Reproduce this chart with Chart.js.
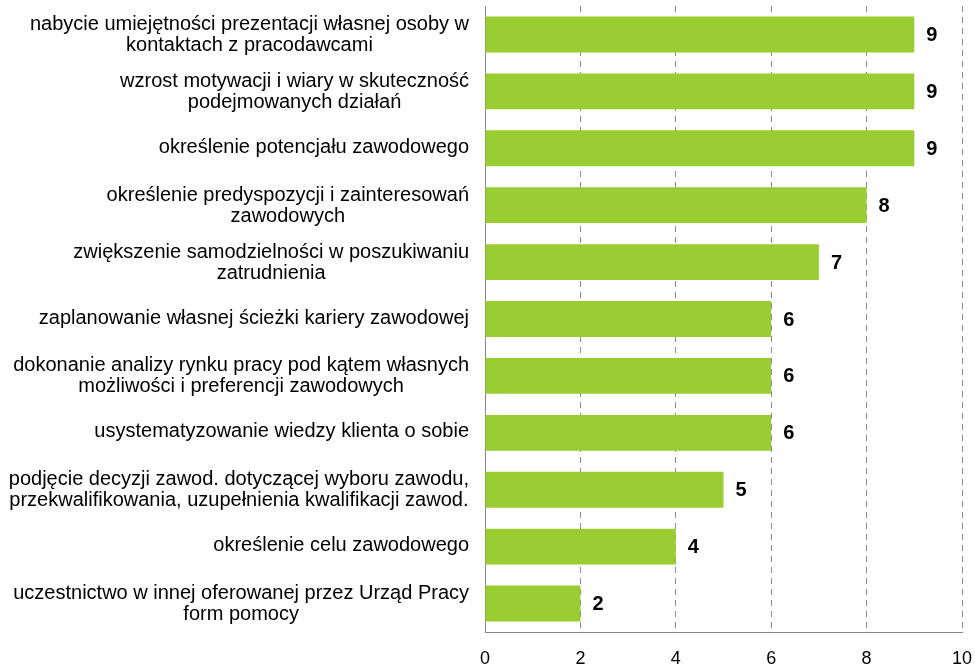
<!DOCTYPE html>
<html>
<head>
<meta charset="utf-8">
<script src="https://cdn.jsdelivr.net/npm/chart.js@4"></script>
<style>
  html, body { margin: 0; padding: 0; background: #fff; }
  #wrap { width: 975px; height: 666px; }
</style>
</head>
<body>
<div id="wrap"><canvas id="barChart"></canvas></div>
<script>
// Categories (already broken into lines as in the original)
const categories = [
    ['nabycie umiejętności prezentacji własnej osoby w', 'kontaktach z pracodawcami'],
    ['wzrost motywacji i wiary w skuteczność', 'podejmowanych działań'],
    ['określenie potencjału zawodowego'],
    ['określenie predyspozycji i zainteresowań', 'zawodowych'],
    ['zwiększenie samodzielności w poszukiwaniu', 'zatrudnienia'],
    ['zaplanowanie własnej ścieżki kariery zawodowej'],
    ['dokonanie analizy rynku pracy pod kątem własnych', 'możliwości i preferencji zawodowych'],
    ['usystematyzowanie wiedzy klienta o sobie'],
    ['podjęcie decyzji zawod. dotyczącej wyboru zawodu,', 'przekwalifikowania, uzupełnienia kwalifikacji zawod.'],
    ['określenie celu zawodowego'],
    ['uczestnictwo w innej oferowanej przez Urząd Pracy', 'form pomocy']
];
const values = [9, 9, 9, 8, 7, 6, 6, 6, 5, 4, 2];
const xTicks = [0, 2, 4, 6, 8, 10];

const FONT = '"Liberation Sans", Arial, sans-serif';

// Category labels: block right-aligned to the axis, lines centred inside the block
const categoryLabels = {
    id: 'categoryLabels',
    afterDraw(chart) {
        const ctx = chart.ctx;
        const yScale = chart.scales.y;
        const right = chart.chartArea.left - 16;
        const lineH = 21;
        ctx.save();
        ctx.font = '20px ' + FONT;
        ctx.fillStyle = '#000';
        ctx.textAlign = 'center';
        ctx.textBaseline = 'middle';
        categories.forEach((lines, i) => {
            const y = yScale.getPixelForValue(i);
            const w = Math.max(...lines.map(l => ctx.measureText(l).width));
            const cx = right - w / 2;
            const shift = lines.length > 1 ? 1.5 : 0;
            const top = y - (lines.length - 1) * lineH / 2 + shift - 1;
            lines.forEach((l, j) => ctx.fillText(l, cx, top + j * lineH));
        });
        ctx.restore();
    }
};

// Value labels at the end of each bar
const valueLabels = {
    id: 'valueLabels',
    afterDatasetsDraw(chart) {
        const ctx = chart.ctx;
        const meta = chart.getDatasetMeta(0);
        ctx.save();
        ctx.font = 'bold 20px ' + FONT;
        ctx.fillStyle = '#000';
        ctx.textAlign = 'left';
        ctx.textBaseline = 'middle';
        meta.data.forEach((bar, i) => {
            ctx.fillText(String(values[i]), bar.x + 12, bar.y + 1);
        });
        ctx.restore();
    }
};

const ctx = document.getElementById('barChart').getContext('2d');
const chart = new Chart(ctx, {
    type: 'bar',
    data: {
        labels: categories.map(c => c.join(' ')),
        datasets: [{
            data: values,
            backgroundColor: '#9ACD32',
            borderWidth: 0,
            categoryPercentage: 1,
            barPercentage: 0.63
        }]
    },
    options: {
        indexAxis: 'y',
        responsive: true,
        maintainAspectRatio: false,
        animation: false,
        layout: {
            padding: { left: 485, right: 13, top: 6, bottom: 0 }
        },
        plugins: {
            legend: { display: false },
            tooltip: { enabled: false }
        },
        scales: {
            x: {
                min: 0,
                max: 10,
                afterBuildTicks: (scale) => {
                    scale.ticks = xTicks.map(v => ({ value: v }));
                },
                afterFit: (scale) => {
                    scale.height = 34;
                    scale.paddingLeft = 0;
                    scale.paddingRight = 0;
                },
                grid: {
                    color: '#888',
                    lineWidth: 1,
                    drawTicks: false
                },
                border: { display: true, color: '#888', dash: [6, 5], width: 1 },
                ticks: {
                    padding: 16,
                    color: '#000',
                    font: { family: FONT, size: 18 },
                    maxRotation: 0
                }
            },
            y: {
                grid: { display: false, drawTicks: false },
                border: { display: true, color: '#888', width: 1 },
                ticks: { display: false }
            }
        }
    },
    plugins: [categoryLabels, valueLabels]
});
</script>
</body>
</html>
